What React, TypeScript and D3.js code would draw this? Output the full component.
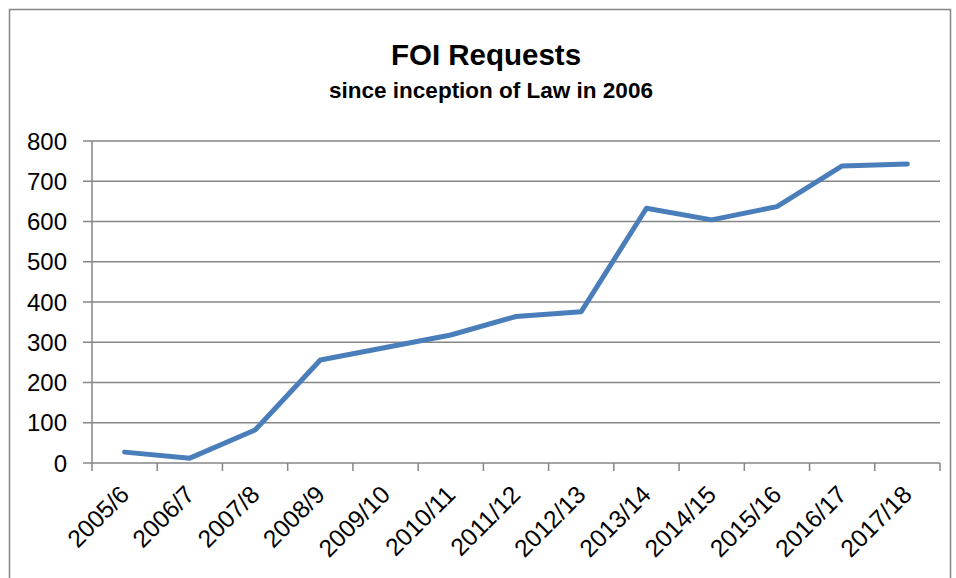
import React from "react";
import * as d3 from "d3";

const categories = ["2005/6","2006/7","2007/8","2008/9","2009/10","2010/11","2011/12","2012/13","2013/14","2014/15","2015/16","2016/17","2017/18"];
const requests = [27, 12, 82, 256, 287, 318, 364, 376, 633, 604, 637, 738, 743];
const yTicks = [0, 100, 200, 300, 400, 500, 600, 700, 800];
const titleText = "FOI Requests";
const subtitleText = "since inception of Law in 2006";

const W = 956, H = 578;
const left = 92, right = 940, top = 141, bottom = 463;
const grid = "#868686";
const font = "'Liberation Sans', Arial, sans-serif";

export default function App() {
  const x = d3.scaleBand<string>().domain(categories).range([left, right]).padding(0);
  const y = d3.scaleLinear().domain([0, 800]).range([bottom, top]);
  const line = d3.line<number>()
    .x((_, i) => (x(categories[i]) as number) + x.bandwidth() / 2)
    .y((d) => y(d));
  const boundaries = [...categories.map((c) => x(c) as number), right];
  return (
    <div style={{ position: "absolute", left: 0, top: 0 }}>
      <svg width={W} height={H} style={{ display: "block", background: "#fff" }}>
        <rect x={9.5} y={9.5} width={941} height={600} fill="#fff" stroke={grid} strokeWidth={1.5} />
        <text x={486} y={65} textAnchor="middle" fontFamily={font} fontWeight="bold" fontSize={29.5} fill="#000">{titleText}</text>
        <text x={491} y={98} textAnchor="middle" fontFamily={font} fontWeight="bold" fontSize={22.5} fill="#000">{subtitleText}</text>
        {yTicks.map((t) => (
          <g key={t}>
            <line x1={left - 9} x2={right} y1={y(t)} y2={y(t)} stroke={grid} strokeWidth={1.5} />
            <text x={67} y={y(t)} dy="0.36em" textAnchor="end" fontFamily={font} fontSize={24} fill="#000">{t}</text>
          </g>
        ))}
        <line x1={left} x2={left} y1={top} y2={bottom} stroke={grid} strokeWidth={1.5} />
        {boundaries.map((b, i) => (
          <line key={i} x1={b} x2={b} y1={bottom} y2={bottom + 8} stroke={grid} strokeWidth={1.5} />
        ))}
        {categories.map((c) => {
          const cx = (x(c) as number) + x.bandwidth() / 2;
          return (
            <text key={c} transform={`translate(${cx + 6},${496}) rotate(-45)`} textAnchor="end" fontFamily={font} fontSize={24.5} fill="#000">{c}</text>
          );
        })}
        <path d={line(requests) || ""} fill="none" stroke="#4a7ebb" strokeWidth={5} strokeLinejoin="round" strokeLinecap="round" />
      </svg>
    </div>
  );
}
